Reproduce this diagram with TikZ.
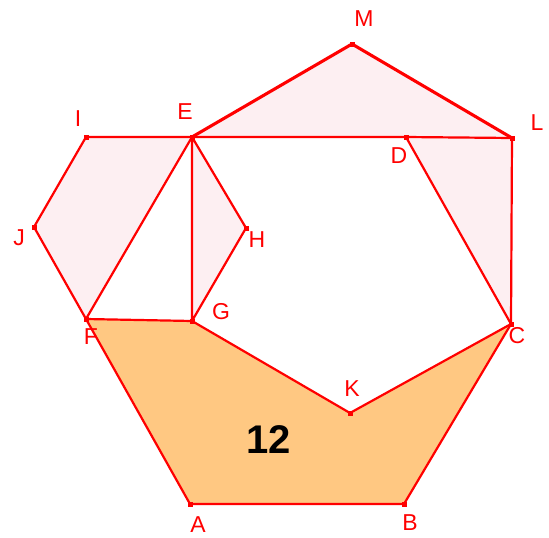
\documentclass[tikz,border=0pt]{standalone}
\usepackage{fontspec}
\setmainfont{Liberation Sans}
\usepackage{xcolor}
\definecolor{edgered}{HTML}{FF0000}
\definecolor{pinkfill}{HTML}{FDEFF2}
\definecolor{orangefill}{HTML}{FFC882}
\usepackage{tikz}
\usetikzlibrary{positioning}

\begin{document}
\begin{tikzpicture}[
      x=1pt, y=-1pt,
      %% Pale pink faces
      face/.style={fill=pinkfill, draw=none},
      %% Orange twelve-area face
      area/.style={fill=orangefill, draw=none},
      edge/.style={draw=edgered, line width=2.2pt, line join=round},
      thick edge/.style={draw=edgered, line width=3.1pt, line join=round},
      pt/.style={fill=edgered, minimum size=5pt, inner sep=0pt, rectangle},
      lab/.style={text=edgered, font=\fontsize{23}{23}\selectfont, inner sep=0pt},
    ]
    \useasboundingbox (0,0) rectangle (549,538);

    %% ── Points ──────────────────────────────────────────────────────────────
    \coordinate (A) at (190,504);
    \coordinate (B) at (404,504);
    \coordinate (C) at (511,324);
    \coordinate (D) at (406,137);
    \coordinate (E) at (192,137);
    \coordinate (F) at (86,319);
    \coordinate (G) at (192,321);
    \coordinate (H) at (246,228);
    \coordinate (I) at (86,137);
    \coordinate (J) at (34,227);
    \coordinate (K) at (350,413);
    \coordinate (L) at (512,138);
    \coordinate (M) at (352,44);

    %% ── Faces ───────────────────────────────────────────────────────────────
    \fill[area] (F) -- (G) -- (K) -- (C) -- (B) -- (A) -- cycle;
    \fill[face] (E) -- (I) -- (J) -- (F) -- cycle;
    \fill[face] (E) -- (H) -- (G) -- cycle;
    \fill[face] (E) -- (M) -- (L) -- cycle;
    \fill[face] (D) -- (L) -- (C) -- cycle;

    %% ── Edges ───────────────────────────────────────────────────────────────
    \draw[edge] (A) -- (B) -- (C) -- (D) -- (E) -- (F) -- cycle;
    \draw[edge] (E) -- (I) -- (J) -- (F);
    \draw[edge] (E) -- (G) -- (H) -- cycle;
    \draw[edge] (F) -- (G) -- (K) -- (C);
    \draw[edge] (D) -- (L) -- (C);
    \draw[thick edge] (E) -- (M) -- (L);

    %% ── Vertex marks ────────────────────────────────────────────────────────
    \foreach \p in {A,B,C,D,E,F,G,H,I,J,K,L,M}
      \node[pt] (m\p) at (\p) {};

    %% ── Labels ──────────────────────────────────────────────────────────────
    \node[lab] (lM) at (364,19)  {M};
    \node[lab] (lI) at (78,119)  {I};
    \node[lab] (lE) at (185,112) {E};
    \node[lab] (lD) at (399,156) {D};
    \node[lab] (lL) at (537,123) {L};
    \node[lab] (lJ) at (19,238)  {J};
    \node[lab] (lH) at (257,240) {H};
    \node[lab] (lG) at (221,312) {G};
    \node[lab] (lF) at (91,337)  {F};
    \node[lab] (lC) at (517,336) {C};
    \node[lab] (lK) at (352,389) {K};
    \node[lab] (lA) at (198,525) {A};
    \node[lab] (lB) at (410,523) {B};

    \node[font=\fontsize{40}{40}\selectfont\bfseries, inner sep=0pt] (area) at (269,440) {12};
  \end{tikzpicture}
\end{document}
